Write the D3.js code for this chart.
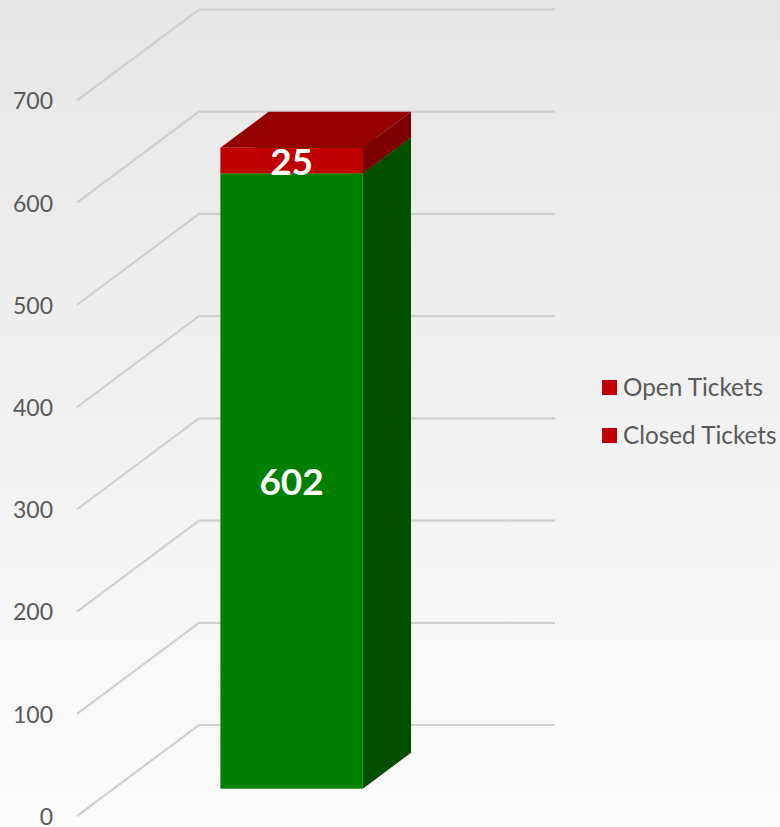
<!DOCTYPE html>
<html lang="en">
  <meta charset="UTF-8" />
  <title>Tickets</title>
  <style>
    html, body { margin: 0; padding: 0; }
    svg { display: block; font-family: Lato, sans-serif; }
  </style>
  <script src="https://d3js.org/d3.v7.min.js"></script>
  <body>
    <div id="chart"></div>
    <script>
      const categories = ["Tickets"];
      const seriesNames = ["Closed Tickets", "Open Tickets"];
      const closedValues = [602];
      const openValues = [25];
      const yTicks = [0, 100, 200, 300, 400, 500, 600, 700];
      const legendLabels = ["Open Tickets", "Closed Tickets"];

      const width = 780, height = 827;
      const svg = d3.select("#chart").append("svg")
        .attr("width", width).attr("height", height);

      // page background fades from grey to near white
      const grad = svg.append("defs").append("linearGradient")
        .attr("id", "bg").attr("x1", 0).attr("y1", 0).attr("x2", 0).attr("y2", 1);
      grad.append("stop").attr("offset", "0%").attr("stop-color", "#e6e6e6");
      grad.append("stop").attr("offset", "100%").attr("stop-color", "#fcfcfc");
      svg.append("rect").attr("width", width).attr("height", height).attr("fill", "url(#bg)");

      // scales on the front plane of the fake 3d box
      const y = d3.scaleLinear().domain([0, 700]).range([816, 100.5]);
      const x = d3.scaleBand().domain(categories).range([77, 433])
        .paddingInner(0.6).paddingOuter(0.3);
      // depth goes from 0 (front) to 1 (back wall)
      const depthX = d3.scaleLinear().domain([0, 1]).range([0, 122]);
      const depthY = d3.scaleLinear().domain([0, 1]).range([0, -91]);
      const barDepth = [0.3, 0.695];

      // y axis, labels only
      const axis = svg.append("g").attr("transform", "translate(53,1)")
        .call(d3.axisLeft(y).tickValues(yTicks).tickSize(0).tickPadding(0));
      axis.select(".domain").remove();
      axis.selectAll("text")
        .attr("font-family", "Lato, sans-serif")
        .attr("font-size", 23)
        .attr("fill", "#595959");

      // side wall and back wall gridlines
      const linePath = (v) => {
        const p = d3.path();
        p.moveTo(x.range()[0], y(v));
        p.lineTo(x.range()[0] + depthX(1), y(v) + depthY(1));
        p.lineTo(x.range()[1] + depthX(1), y(v) + depthY(1));
        return p.toString();
      };
      svg.append("g").selectAll("path").data(yTicks).enter().append("path")
        .attr("d", linePath)
        .attr("fill", "none")
        .attr("stroke", "#d0d0d0")
        .attr("stroke-width", 2.2);

      // stacked segments
      const stack = d3.stack().keys(seriesNames);
      const rows = categories.map((c, i) => ({
        category: c,
        "Closed Tickets": closedValues[i],
        "Open Tickets": openValues[i],
      }));
      const layers = stack(rows);
      const colors = {
        "Closed Tickets": { front: "#008000", side: "#005000", top: "#006000" },
        "Open Tickets": { front: "#c00000", side: "#7c0000", top: "#960000" },
      };
      const line = d3.line().x((d) => d[0]).y((d) => d[1]);

      const bars = svg.append("g");
      layers.forEach((layer) => {
        const d = layer[0];
        const c = colors[layer.key];
        const xL = x(d.data.category) + depthX(barDepth[0]);
        const xR = xL + x.bandwidth();
        const dx = depthX(barDepth[1]) - depthX(barDepth[0]);
        const dy = depthY(barDepth[1]) - depthY(barDepth[0]);
        const y0 = y(d[0]) + depthY(barDepth[0]);
        const y1 = y(d[1]) + depthY(barDepth[0]);

        bars.append("path")
          .attr("d", line([[xR, y0], [xR + dx, y0 + dy], [xR + dx, y1 + dy], [xR, y1]]) + "Z")
          .attr("fill", c.side);
        bars.append("path")
          .attr("d", line([[xL, y1], [xR, y1], [xR + dx, y1 + dy], [xL + dx, y1 + dy]]) + "Z")
          .attr("fill", c.top);
        bars.append("rect")
          .attr("x", xL).attr("y", y1)
          .attr("width", x.bandwidth()).attr("height", y0 - y1)
          .attr("fill", c.front);
      });

      // value labels
      layers.forEach((layer) => {
        const d = layer[0];
        svg.append("text")
          .attr("x", x(d.data.category) + depthX(barDepth[0]) + x.bandwidth() / 2)
          .attr("y", (y(d[0]) + y(d[1])) / 2 + depthY(barDepth[0]) + 1.5)
          .attr("dy", "0.35em")
          .attr("text-anchor", "middle")
          .attr("font-size", 37)
          .attr("font-weight", 700)
          .attr("fill", "#fff")
          .text(d[1] - d[0]);
      });

      // legend
      const legend = svg.append("g").selectAll("g").data(legendLabels).enter().append("g")
        .attr("transform", (d, i) => "translate(602," + (380 + i * 48) + ")");
      legend.append("rect").attr("width", 15).attr("height", 15).attr("fill", "#c00000");
      legend.append("text")
        .attr("x", 21).attr("y", 7).attr("dy", "0.35em")
        .attr("font-size", 24.3).attr("fill", "#595959")
        .text((d) => d);
    </script>
  </body>
</html>
